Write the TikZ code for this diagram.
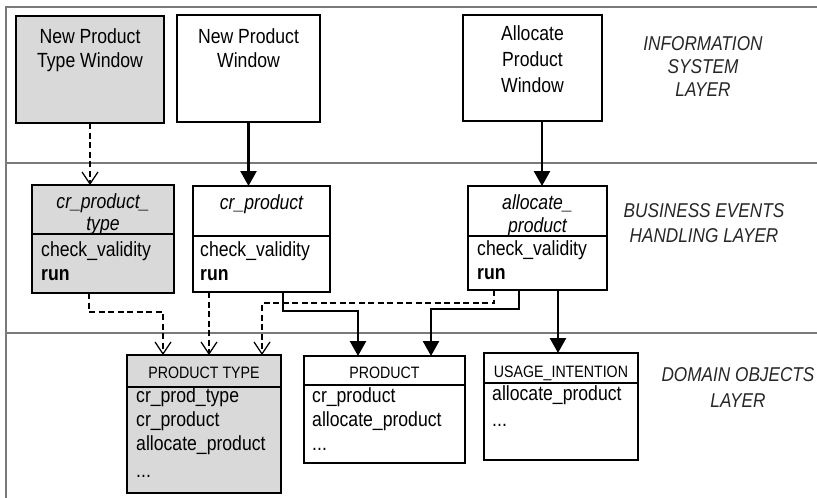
\documentclass[tikz,border=0pt]{standalone}
\usepackage{fontspec}
\setmainfont{Liberation Sans}[FakeStretch=0.86]
\usetikzlibrary{arrows.meta}
\definecolor{boxgray}{HTML}{D9D9D9}
\definecolor{layerline}{HTML}{7A7A7A}
\newcommand\wfont{\fontsize{20.5}{24}\selectfont}
\newcommand\hfont{\fontsize{16.5}{20}\selectfont}
\newcommand\lfont{\fontsize{20}{23}\selectfont\itshape}

\begin{document}
\begin{tikzpicture}[x=1pt,y=-1pt,
  box/.style={draw, line width=1.9pt, rectangle, anchor=north west,
              inner sep=0pt, outer sep=0pt},
  shaded/.style={box, fill=boxgray},
  txt/.style={anchor=base, inner sep=0pt, font=\wfont},
  ital/.style={anchor=base, inner sep=0pt, font=\wfont\itshape},
  item/.style={anchor=base west, inner sep=0pt, font=\wfont},
  hd/.style={anchor=base, inner sep=0pt, font=\hfont},
  lay/.style={anchor=base, inner sep=0pt, font=\lfont, text=black!85},
  call/.style={line width=2.5pt, -{Triangle[length=15pt,width=16pt]}},
  uses/.style={line width=1.2pt, dash pattern=on 6pt off 3.5pt,
               -{Straight Barb[length=12pt,width=16pt,line width=1.2pt]}},
  divider/.style={line width=1.6pt},
  layer/.style={layerline, line width=1.4pt}
]
\useasboundingbox (0,0) rectangle (817,498);

% layer frame and separators
\draw[layer] (6,498) -- (6,7) -- (817,7);
\draw[layer] (6,163) -- (817,163);
\draw[layer] (6,333) -- (817,333);

% information system layer
\node[shaded, minimum width=148pt, minimum height=107pt] (nptw) at (16,16) {};
\node[box, minimum width=143pt, minimum height=107pt] (npw) at (177,15) {};
\node[box, minimum width=139pt, minimum height=106pt] (apw) at (463,15) {};
\node[txt] (nptw-t1) at (90,43) {New Product};
\node[txt] (nptw-t2) at (90,67) {Type Window};
\node[txt] (npw-t1) at (248.5,43) {New Product};
\node[txt] (npw-t2) at (248.5,67) {Window};
\node[txt] (apw-t1) at (532.5,40) {Allocate};
\node[txt] (apw-t2) at (532.5,66) {Product};
\node[txt] (apw-t3) at (532.5,92) {Window};
\node[lay] (lay1-a) at (703,50) {INFORMATION};
\node[lay] (lay1-b) at (703,73) {SYSTEM};
\node[lay] (lay1-c) at (703,96) {LAYER};

% business events handling layer
\node[shaded, minimum width=142pt, minimum height=108pt] (crpt) at (32,185) {};
\node[box, minimum width=137pt, minimum height=106pt] (crp) at (193,186) {};
\node[box, minimum width=139pt, minimum height=104pt] (alp) at (468,186) {};
\draw[divider] ([yshift=-49pt]crpt.north west) -- ([yshift=-49pt]crpt.north east);
\draw[divider] ([yshift=-50pt]crp.north west) -- ([yshift=-50pt]crp.north east);
\draw[divider] ([yshift=-50pt]alp.north west) -- ([yshift=-50pt]alp.north east);
\node[ital] (crpt-h1) at (103,208) {cr\_product\_};
\node[ital] (crpt-h2) at (103,230) {type};
\node[item] (crpt-m1) at (41,256) {check\_validity};
\node[item] (crpt-m2) at (41,280) {\bfseries run};
\node[ital] (crp-h1) at (261.5,209) {cr\_product};
\node[item] (crp-m1) at (200,256) {check\_validity};
\node[item] (crp-m2) at (200,280) {\bfseries run};
\node[ital] (alp-h1) at (537.5,209) {allocate\_};
\node[ital] (alp-h2) at (537.5,232) {product};
\node[item] (alp-m1) at (477,255) {check\_validity};
\node[item] (alp-m2) at (477,279) {\bfseries run};
\node[lay] (lay2-a) at (704,217) {BUSINESS EVENTS};
\node[lay] (lay2-b) at (704,242) {HANDLING LAYER};

% domain objects layer
\node[shaded, minimum width=154pt, minimum height=138pt] (pt) at (127,355) {};
\node[box, minimum width=161pt, minimum height=107pt] (prod) at (304,356) {};
\node[box, minimum width=154pt, minimum height=107pt] (ui) at (484,353) {};
\draw[divider] ([yshift=-32pt]pt.north west) -- ([yshift=-32pt]pt.north east);
\draw[divider] ([yshift=-29pt]prod.north west) -- ([yshift=-29pt]prod.north east);
\draw[divider] ([yshift=-30pt]ui.north west) -- ([yshift=-30pt]ui.north east);
\node[hd] (pt-h) at (204,378) {PRODUCT TYPE};
\node[item] (pt-m1) at (136,402) {cr\_prod\_type};
\node[item] (pt-m2) at (136,426) {cr\_product};
\node[item] (pt-m3) at (136,450) {allocate\_product};
\node[item] (pt-m4) at (136,477) {...};
\node[hd] (prod-h) at (384.5,378) {PRODUCT};
\node[item] (prod-m1) at (312,402) {cr\_product};
\node[item] (prod-m2) at (312,426) {allocate\_product};
\node[item] (prod-m3) at (312,450) {...};
\node[hd] (ui-h) at (561,377) {USAGE\_INTENTION};
\node[item] (ui-m1) at (492,400) {allocate\_product};
\node[item] (ui-m2) at (492,426) {...};
\node[lay] (lay3-a) at (738,381) {DOMAIN OBJECTS};
\node[lay] (lay3-b) at (738,407) {LAYER};

% ports on the boxes
\coordinate (apw-o)   at ([xshift=9.5pt]apw.south);
\coordinate (crpt-o)  at ([xshift=-14pt]crpt.south);
\coordinate (crp-o1)  at ([xshift=-52.5pt]crp.south);
\coordinate (crp-o2)  at ([xshift=21.5pt]crp.south);
\coordinate (alp-o1)  at ([xshift=-43.5pt]alp.south);
\coordinate (alp-o2)  at ([xshift=-18.5pt]alp.south);
\coordinate (alp-o3)  at ([xshift=20.5pt]alp.south);
\coordinate (pt-i1)   at ([xshift=-41pt]pt.north);
\coordinate (pt-i3)   at ([xshift=58pt]pt.north);
\coordinate (prod-i1) at ([xshift=-26.5pt]prod.north);
\coordinate (prod-i2) at ([xshift=46.5pt]prod.north);

% windows trigger business events
\draw[uses] (nptw.south) -- (nptw.south |- crpt.north);
\draw[call] (npw.south) -- (npw.south |- crp.north);
\draw[call] (apw-o) -- (apw-o |- alp.north);

% business events act on domain objects
\draw[uses] (crpt-o) -- ++(0,19) -| (pt-i1);
\draw[uses] (crp-o1) -- (crp-o1 |- pt.north);
\draw[uses] (alp-o1) -- ++(0,13) -| (pt-i3);
\draw[call] (crp-o2) -- ++(0,19) -| (prod-i1);
\draw[call] (alp-o2) -- ++(0,19) -| (prod-i2);
\draw[call] (alp-o3) -- (alp-o3 |- ui.north);
\end{tikzpicture}
\end{document}
